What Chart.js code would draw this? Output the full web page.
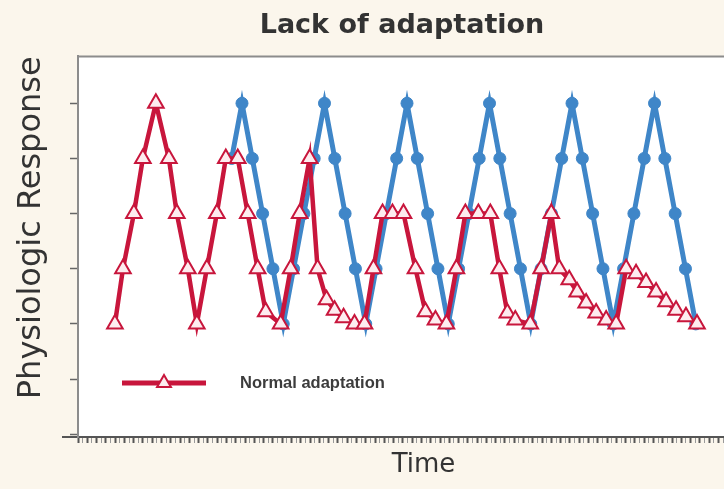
<!DOCTYPE html>
<html>
<head>
<meta charset="utf-8">
<script src="https://cdn.jsdelivr.net/npm/chart.js@4.4.0/dist/chart.umd.min.js"></script>
<style>
  html, body { margin: 0; padding: 0; background: #fbf6ec; overflow: hidden; }
  #wrap { width: 724px; height: 489px; overflow: hidden; }
</style>
</head>
<body>
<div id="wrap"><canvas id="chart" width="780" height="489"></canvas></div>
<script>
// Normal adaptation (red, triangles)
const redTime = [3.58, 4.36, 5.42, 6.29, 7.55, 8.81, 9.58, 10.65, 11.52, 12.49, 13.46, 14.33, 15.49, 16.46, 17.42,
    18.2, 19.65, 20.62, 21.49, 22.46, 23.23, 24.1, 24.88, 25.75, 26.81, 27.78, 28.65, 29.53, 30.49, 31.56,
    32.72, 33.69, 34.66, 35.72, 36.69, 37.56, 38.82, 39.98, 40.85, 41.63, 42.4, 43.85, 44.91, 45.89, 46.66,
    47.63, 48.4, 49.27, 50.24, 51.21, 52.18, 53.15, 54.11, 55.08, 56.05, 57.02, 57.99, 58.95, 60.02];
const redValue = [1, 2, 3, 4, 5, 4, 3, 2, 1, 2, 3, 4, 4, 3, 2,
    1.22, 1, 2, 3, 4, 2, 1.44, 1.25, 1.11, 1, 1, 2, 3, 3, 3,
    2, 1.22, 1.07, 1, 2, 3, 3, 3, 2, 1.2, 1.07, 1, 2, 3, 2,
    1.8, 1.58, 1.38, 1.2, 1.07, 1, 2, 1.91, 1.75, 1.58, 1.4, 1.25, 1.13, 1];

// Lack of adaptation (blue, circles)
const blueTime = [14.9, 15.9, 16.9, 17.9, 18.9, 19.9, 20.9, 21.9, 22.9, 23.9, 24.9, 25.9, 26.9, 27.9, 28.9, 29.9,
    30.9, 31.9, 32.9, 33.9, 34.9, 35.9, 36.9, 37.9, 38.9, 39.9, 40.9, 41.9, 42.9, 43.9, 44.9, 45.9,
    46.9, 47.9, 48.9, 49.9, 50.9, 51.9, 52.9, 53.9, 54.9, 55.9, 56.9, 57.9, 58.9, 59.9];
const blueValue = [4, 5, 4, 3, 2, 1, 2, 3, 4, 5, 4, 3, 2, 1, 2, 3,
    4, 5, 4, 3, 2, 1, 2, 3, 4, 5, 4, 3, 2, 1, 2, 3,
    4, 5, 4, 3, 2, 1, 2, 3, 4, 5, 4, 3, 2, 1];

const yTicks = [-1, 0, 1, 2, 3, 4, 5];

const RED = '#c8163c';
const BLUE = '#3f86c8';

// white plot area with grey top edge, x axis line poking out on the left
const plotBackground = {
    id: 'plotBackground',
    beforeDraw(chart) {
        const { ctx, chartArea: a } = chart;
        ctx.save();
        ctx.fillStyle = '#ffffff';
        ctx.fillRect(a.left, a.top, a.right - a.left, a.bottom - a.top);
        ctx.strokeStyle = '#8c8c8c';
        ctx.lineWidth = 2;
        ctx.beginPath();
        ctx.moveTo(a.left, a.top);
        ctx.lineTo(a.right, a.top);
        ctx.stroke();
        ctx.strokeStyle = '#555';
        ctx.beginPath();
        ctx.moveTo(a.left - 16, a.bottom);
        ctx.lineTo(a.left, a.bottom);
        ctx.stroke();
        ctx.restore();
    }
};

// legend drawn inside the plot, only for the red series
const insideLegend = {
    id: 'insideLegend',
    afterDatasetsDraw(chart) {
        const { ctx, chartArea: a, scales } = chart;
        const y = scales.y.getPixelForValue(0) + 4;
        const x0 = a.left + 44;
        const x1 = a.left + 128;
        const xm = (x0 + x1) / 2;
        ctx.save();
        ctx.strokeStyle = RED;
        ctx.lineWidth = 5;
        ctx.beginPath();
        ctx.moveTo(x0, y);
        ctx.lineTo(x1, y);
        ctx.stroke();
        const r = 8;
        ctx.beginPath();
        ctx.moveTo(xm, y - r);
        ctx.lineTo(xm + r * 0.866, y + r / 2);
        ctx.lineTo(xm - r * 0.866, y + r / 2);
        ctx.closePath();
        ctx.fillStyle = '#fdecef';
        ctx.fill();
        ctx.lineWidth = 2;
        ctx.stroke();
        ctx.fillStyle = '#3c3c3c';
        ctx.font = 'bold 16.5px "Liberation Sans", Arial, sans-serif';
        ctx.textBaseline = 'middle';
        ctx.fillText('Normal adaptation', a.left + 162, y);
        ctx.restore();
    }
};

new Chart(document.getElementById('chart'), {
    type: 'line',
    data: {
        datasets: [{
            label: 'Normal adaptation',
            data: redTime.map((t, i) => ({ x: t, y: redValue[i] })),
            borderColor: RED,
            borderWidth: 4.5,
            pointStyle: 'triangle',
            pointRadius: 9,
            pointBorderWidth: 2,
            pointBorderColor: RED,
            pointBackgroundColor: '#fdecef',
            tension: 0,
            fill: false
        }, {
            label: 'Lack of adaptation',
            data: blueTime.map((t, i) => ({ x: t, y: blueValue[i] })),
            borderColor: BLUE,
            borderWidth: 5,
            pointStyle: 'circle',
            pointRadius: 6,
            pointBorderWidth: 1,
            pointBorderColor: BLUE,
            pointBackgroundColor: BLUE,
            tension: 0,
            fill: false
        }]
    },
    options: {
        responsive: false,
        animation: false,
        layout: { padding: { left: 24, right: 0, top: 0, bottom: 0 } },
        scales: {
            x: {
                type: 'linear',
                min: 0,
                max: 67,
                afterBuildTicks: scale => {
                    const ticks = [];
                    for (let v = 0; v <= 67; v += 0.45) ticks.push({ value: v });
                    scale.ticks = ticks;
                },
                afterFit: scale => { scale.height = 52; },
                ticks: { display: false },
                grid: {
                    drawOnChartArea: false,
                    drawTicks: true,
                    tickLength: 6,
                    tickWidth: c => (c.index % 2 === 0 ? 2 : 1),
                    tickColor: c => (c.index % 2 === 0 ? '#555' : '#999')
                },
                border: { color: '#555', width: 2 },
                title: {
                    display: true,
                    text: 'Time',
                    color: '#333',
                    font: { family: '"DejaVu Sans", sans-serif', size: 26 },
                    padding: { top: 0, bottom: 8 }
                }
            },
            y: {
                min: -1.05,
                max: 5.85,
                afterBuildTicks: scale => { scale.ticks = yTicks.map(v => ({ value: v })); },
                afterFit: scale => { scale.width = 54; },
                ticks: { display: false },
                grid: {
                    drawOnChartArea: false,
                    drawTicks: true,
                    tickLength: 8,
                    tickWidth: 1.5,
                    tickColor: '#666'
                },
                border: { color: '#8c8c8c', width: 2 },
                title: {
                    display: true,
                    text: 'Physiologic Response',
                    color: '#333',
                    align: 'end',
                    font: { family: '"DejaVu Sans", sans-serif', size: 32 },
                    padding: { top: -12, bottom: 0 }
                }
            }
        },
        plugins: {
            legend: { display: false },
            tooltip: { enabled: false },
            title: {
                display: true,
                text: 'Lack of adaptation',
                color: '#333',
                font: { family: '"DejaVu Sans", sans-serif', size: 27, weight: 'bold' },
                padding: { top: 10, bottom: 14 }
            }
        }
    },
    plugins: [plotBackground, insideLegend]
});
</script>
</body>
</html>
